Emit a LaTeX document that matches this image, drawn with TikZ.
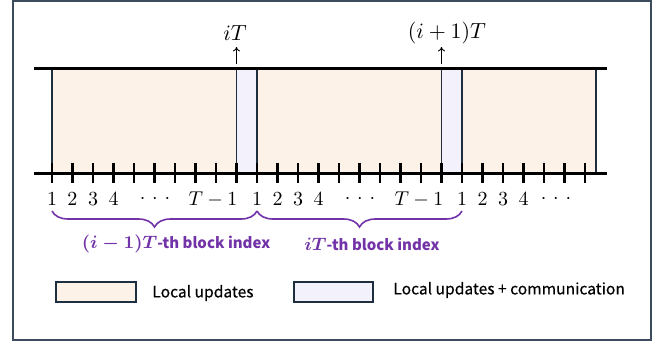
\documentclass[tikz,border=0pt]{standalone}
\usepackage{fontspec}
\usepackage{bm}
\newfontfamily\legfont[FakeBold=0.35]{Noto Sans CJK SC}
\newfontfamily\labfont{Noto Sans CJK SC}
\usetikzlibrary{decorations.pathreplacing,arrows.meta}
\definecolor{localfill}{HTML}{FCF2E8}
\definecolor{commfill}{HTML}{F3F2FC}
\definecolor{edgecol}{HTML}{1E2E3E}
\definecolor{framecol}{HTML}{3C4C5C}
\definecolor{bracecol}{HTML}{7232A8}
\newcommand{\spreaddots}{${\cdot}\hspace{3.4pt}{\cdot}\hspace{3.4pt}{\cdot}$}
\newcommand{\blockmath}[1]{{\fontsize{9.5}{10}\selectfont\boldmath$#1$}}
\tikzset{
  frame/.style={draw=framecol,line width=1pt},
  localblk/.style={fill=localfill,draw=edgecol,line width=0.6pt},
  commblk/.style={fill=commfill,draw=edgecol,line width=0.7pt},
  axisline/.style={line width=1.5pt,draw=black},
  tickmark/.style={line width=1.4pt,draw=black},
  num/.style={inner sep=0pt,font=\fontsize{10}{12}\selectfont},
  timelab/.style={inner sep=0pt,font=\fontsize{11}{13}\selectfont},
  uparrow/.style={-{To[length=2.2pt,width=3.5pt]},line width=0.45pt},
  blockbrace/.style={draw=bracecol,line width=0.8pt,decorate,decoration={brace,mirror,amplitude=8pt}},
  bracelab/.style={inner sep=0pt,text=bracecol,font=\labfont\bfseries\fontsize{7.5}{10}\selectfont},
  legbox/.style={draw=edgecol,line width=0.7pt},
  legtext/.style={inner sep=0pt,anchor=west,font=\legfont\fontsize{7.8}{10}\selectfont}
}
\begin{document}
\begin{tikzpicture}[x=0.5pt,y=-0.5pt]
\useasboundingbox (0,0) rectangle (660,345);
% outer frame
\draw[frame] (13,1) rectangle (651,340);

% blocks between the two time axes
\path[localblk] (52,68) rectangle (236.5,173);
\path[commblk] (236.5,68) rectangle (257,173);
\path[localblk] (257,68) rectangle (441.5,173);
\path[commblk] (441.5,68) rectangle (462,173);
\path[localblk] (462,68) rectangle (596,173);

% time axes
\draw[axisline] (34,68) -- (607,68);
\draw[axisline] (34,173) -- (607,173);
\foreach \k in {0,...,26}
  \draw[tickmark] ({52+20.5*\k},163) -- ({52+20.5*\k},183);

% step indices under the lower axis
\node[num] (a1) at (52,199) {$1$};
\node[num] (a2) at (72.5,199) {$2$};
\node[num] (a3) at (93,199) {$3$};
\node[num] (a4) at (113.5,199) {$4$};
\node[num] (ad) at (155,199) {\spreaddots};
\node[num] (at) at (213,199) {$T-1$};
\node[num] (b1) at (257,199) {$1$};
\node[num] (b2) at (277.5,199) {$2$};
\node[num] (b3) at (298,199) {$3$};
\node[num] (b4) at (318.5,199) {$4$};
\node[num] (bd) at (360,199) {\spreaddots};
\node[num] (bt) at (419,199) {$T-1$};
\node[num] (c1) at (462,199) {$1$};
\node[num] (c2) at (482.5,199) {$2$};
\node[num] (c3) at (503,199) {$3$};
\node[num] (c4) at (523.5,199) {$4$};
\node[num] (cd) at (556,199) {\spreaddots};

% communication instants
\node[timelab] (tiT) at (235,33) {$iT$};
\node[timelab] (tiiT) at (447,33) {$(i+1)T$};
\coordinate (p1) at (236.5,64);
\coordinate (q1) at (236.5,47);
\coordinate (p2) at (441.5,64);
\coordinate (q2) at (441.5,47);
\draw[uparrow] (p1) -- (q1);
\draw[uparrow] (p2) -- (q2);

% block braces
\coordinate (br0) at (52,211);
\coordinate (br1) at (257,211);
\coordinate (br2) at (462,211);
\draw[blockbrace] (br0) -- (br1);
\draw[blockbrace] (br1) -- (br2);
\node[bracelab] (lab1) at (176,244) {\blockmath{(i-1)T}-th block index};
\node[bracelab] (lab2) at (372,244) {\blockmath{iT}-th block index};

% legend
\path[legbox,fill=localfill] (56,282) rectangle (136,302);
\node[legtext] (leg1) at (152,293) {Local updates};
\path[legbox,fill=commfill] (294,282) rectangle (373,302);
\node[legtext] (leg2) at (393,290) {Local updates + communication};
\end{tikzpicture}
\end{document}
